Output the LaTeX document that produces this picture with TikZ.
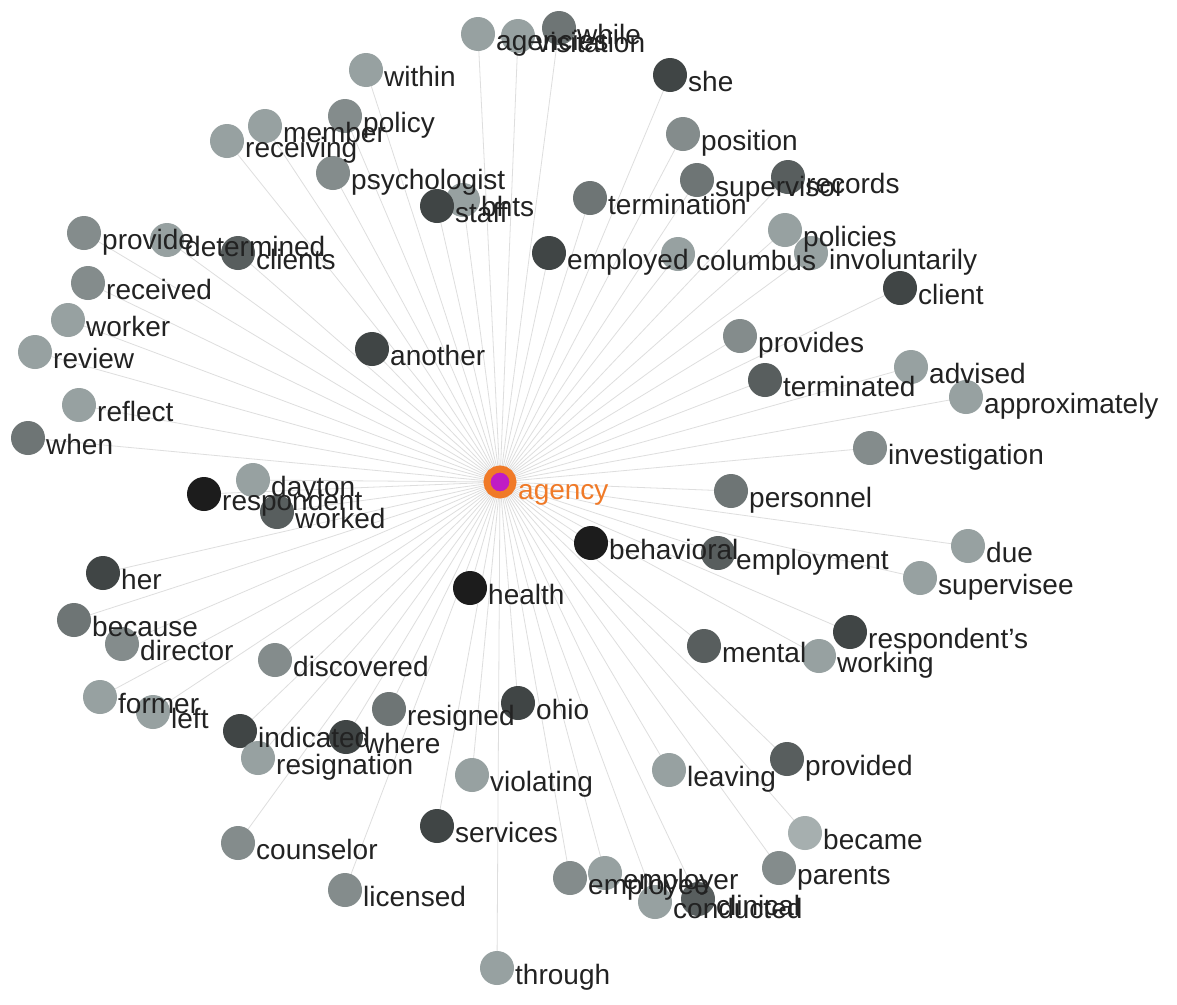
\documentclass[tikz,border=0pt]{standalone}
\usepackage{fontspec}
\setmainfont{Liberation Sans}
\usetikzlibrary{backgrounds}
\pgfdeclarelayer{paper}
\pgfdeclarelayer{labels}
\pgfsetlayers{paper,background,main,labels}

\definecolor{ink}{HTML}{222222}
\definecolor{edgegray}{HTML}{DEDEDE}
\definecolor{huborange}{HTML}{F07A28}
\definecolor{hubmag}{HTML}{C01CC4}
\definecolor{s1}{HTML}{1C1C1C}
\definecolor{s2}{HTML}{404545}
\definecolor{s3}{HTML}{585E5E}
\definecolor{s4}{HTML}{6E7575}
\definecolor{s5}{HTML}{848C8C}
\definecolor{s6}{HTML}{97A1A1}
\definecolor{s7}{HTML}{A6AFAF}

\tikzset{
  dot/.style={circle, inner sep=0pt, minimum size=34pt, draw=none},
  word/.style={anchor=base west, inner sep=0pt, text=ink,
               font=\fontsize{28}{30}\selectfont},
  edge/.style={draw=edgegray, line width=0.8pt},
}

% \wordnode{name}{x}{y}{shade}{text}: a term circle, its label and its link to the hub
\newcommand\wordnode[5]{%
  \node[dot, fill=s#4] (n-#1) at (#2,#3) {};
  \begin{pgfonlayer}{labels}
    \node[word] (t-#1) at ([xshift=18pt, yshift=-16pt]n-#1.center) {#5};
  \end{pgfonlayer}
  \begin{pgfonlayer}{background}
    \draw[edge] (hub.center) -- (n-#1.center);
  \end{pgfonlayer}%
}

\begin{document}
\begin{tikzpicture}[x=1pt, y=-1pt]
\begin{pgfonlayer}{paper}
  \fill[white] (0,0) rectangle (1177,1004);
\end{pgfonlayer}
\useasboundingbox (0,0) rectangle (1177,1004);

% central term
\node[circle, fill=hubmag, draw=huborange, line width=7pt, minimum size=26pt,
      inner sep=0pt] (hub) at (500,482) {};
\begin{pgfonlayer}{labels}
  \node[word, text=huborange] (t-hub) at (518,499) {agency};
\end{pgfonlayer}

% co-occurring terms
\wordnode{agencies}{478}{34}{6}{agencies}
\wordnode{visitation}{518}{36}{6}{visitation}
\wordnode{while}{559}{28}{4}{while}
\wordnode{within}{366}{70}{6}{within}
\wordnode{she}{670}{75}{2}{she}
\wordnode{policy}{345}{116}{5}{policy}
\wordnode{member}{265}{126}{6}{member}
\wordnode{receiving}{227}{141}{6}{receiving}
\wordnode{position}{683}{134}{5}{position}
\wordnode{psychologist}{333}{173}{5}{psychologist}
\wordnode{supervisor}{697}{180}{4}{supervisor}
\wordnode{records}{788}{177}{3}{records}
\wordnode{bhts}{463}{200}{6}{bhts}
\wordnode{staff}{437}{206}{2}{staff}
\wordnode{termination}{590}{198}{4}{termination}
\wordnode{policies}{785}{230}{6}{policies}
\wordnode{employed}{549}{253}{2}{employed}
\wordnode{columbus}{678}{254}{6}{columbus}
\wordnode{involuntarily}{811}{253}{6}{involuntarily}
\wordnode{client}{900}{288}{2}{client}
\wordnode{provide}{84}{233}{5}{provide}
\wordnode{determined}{167}{240}{6}{determined}
\wordnode{clients}{238}{253}{3}{clients}
\wordnode{received}{88}{283}{5}{received}
\wordnode{worker}{68}{320}{6}{worker}
\wordnode{review}{35}{352}{6}{review}
\wordnode{another}{372}{349}{2}{another}
\wordnode{provides}{740}{336}{5}{provides}
\wordnode{advised}{911}{367}{6}{advised}
\wordnode{terminated}{765}{380}{3}{terminated}
\wordnode{approximately}{966}{397}{6}{approximately}
\wordnode{reflect}{79}{405}{6}{reflect}
\wordnode{when}{28}{438}{4}{when}
\wordnode{investigation}{870}{448}{5}{investigation}
\wordnode{dayton}{253}{480}{6}{dayton}
\wordnode{respondent}{204}{494}{1}{respondent}
\wordnode{worked}{277}{512}{3}{worked}
\wordnode{personnel}{731}{491}{4}{personnel}
\wordnode{behavioral}{591}{543}{1}{behavioral}
\wordnode{employment}{718}{553}{3}{employment}
\wordnode{due}{968}{546}{6}{due}
\wordnode{supervisee}{920}{578}{6}{supervisee}
\wordnode{her}{103}{573}{2}{her}
\wordnode{health}{470}{588}{1}{health}
\wordnode{because}{74}{620}{4}{because}
\wordnode{director}{122}{644}{5}{director}
\wordnode{discovered}{275}{660}{5}{discovered}
\wordnode{respondents}{850}{632}{2}{respondent's}
\wordnode{mental}{704}{646}{3}{mental}
\wordnode{working}{819}{656}{6}{working}
\wordnode{former}{100}{697}{6}{former}
\wordnode{left}{153}{712}{6}{left}
\wordnode{ohio}{518}{703}{2}{ohio}
\wordnode{resigned}{389}{709}{4}{resigned}
\wordnode{indicated}{240}{731}{2}{indicated}
\wordnode{where}{346}{737}{2}{where}
\wordnode{resignation}{258}{758}{6}{resignation}
\wordnode{provided}{787}{759}{3}{provided}
\wordnode{leaving}{669}{770}{6}{leaving}
\wordnode{violating}{472}{775}{6}{violating}
\wordnode{services}{437}{826}{2}{services}
\wordnode{became}{805}{833}{7}{became}
\wordnode{counselor}{238}{843}{5}{counselor}
\wordnode{parents}{779}{868}{5}{parents}
\wordnode{employee}{570}{878}{5}{employee}
\wordnode{employer}{605}{873}{6}{employer}
\wordnode{conducted}{655}{902}{6}{conducted}
\wordnode{clinical}{698}{899}{3}{clinical}
\wordnode{licensed}{345}{890}{5}{licensed}
\wordnode{through}{497}{968}{6}{through}
\end{tikzpicture}
\end{document}
